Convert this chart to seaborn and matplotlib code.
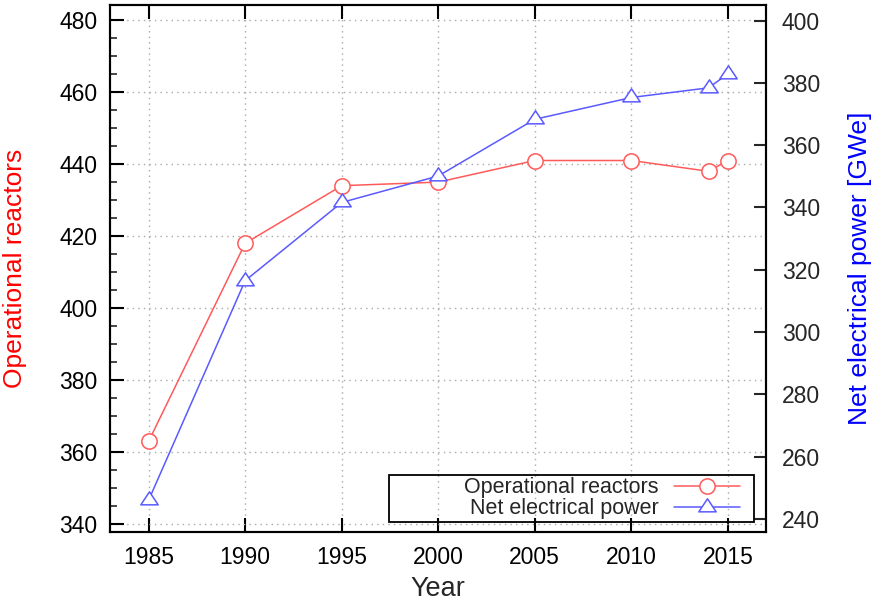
import matplotlib
matplotlib.use("Agg")
import matplotlib.pyplot as plt
from matplotlib.path import Path
from matplotlib.patches import Rectangle
from matplotlib.ticker import MultipleLocator, FixedLocator
import seaborn as sns
import pandas as pd

years = [1985, 1990, 1995, 2000, 2005, 2010, 2014, 2015]
reactors = [363, 418, 434, 435, 441, 441, 438, 441]
power_gwe = [246.0, 316.5, 341.6, 350.1, 368.3, 375.3, 378.4, 382.9]
x_ticks = [1985, 1990, 1995, 2000, 2005, 2010, 2015]
left_ticks = [340, 360, 380, 400, 420, 440, 460, 480]
right_ticks = [240, 260, 280, 300, 320, 340, 360, 380, 400]

sns.set_style("white")
plt.rcParams['font.family'] = ['Liberation Sans', 'DejaVu Sans']

df = pd.DataFrame({"Year": years, "Reactors": reactors, "Power": power_gwe})

fig = plt.figure(figsize=(8.73, 6.01), dpi=100)
ax = fig.add_axes([0.126, 0.1148, 0.752, 0.8769])
ax2 = ax.twinx()

red_line = '#ff5a5a'
blue_line = '#5a5aff'

tri = Path([(0, 4/3), (-4/3, -2/3), (4/3, -2/3), (0, 4/3)],
           [Path.MOVETO, Path.LINETO, Path.LINETO, Path.CLOSEPOLY])

sns.lineplot(data=df, x="Year", y="Reactors", ax=ax, color=red_line, lw=1.1,
             marker='o', markersize=11, markerfacecolor='white',
             markeredgecolor=red_line, markeredgewidth=1.1,
             label="Operational reactors", legend=False)
sns.lineplot(data=df, x="Year", y="Power", ax=ax2, color=blue_line, lw=1.1,
             marker=tri, markersize=12.5, markerfacecolor='white',
             markeredgecolor=blue_line, markeredgewidth=1.1,
             label="Net electrical power", legend=False)

ax.set_xlim(1983, 2017)
ax.set_ylim(337.8, 484.2)
ax2.set_ylim(235.8, 405.0)

ax.xaxis.set_major_locator(FixedLocator(x_ticks))
ax.yaxis.set_major_locator(FixedLocator(left_ticks))
ax.yaxis.set_minor_locator(MultipleLocator(5))
ax2.yaxis.set_major_locator(FixedLocator(right_ticks))

ax.grid(True, which='major', color='#a8a8a8', linestyle=(0, (1, 3)), lw=1.0)
ax2.grid(False)

for a in (ax, ax2):
    for s in a.spines.values():
        s.set_color('black')
        s.set_linewidth(1.5)

ax.tick_params(axis='both', which='major', direction='in', length=10, width=1.5,
               top=True, bottom=True, left=True, right=False,
               labelsize=16.5, pad=9, colors='black')
ax.tick_params(axis='x', which='major', pad=10)
ax.tick_params(axis='y', which='minor', direction='in', length=5, width=1.2,
               left=True, right=False)
ax2.tick_params(axis='y', which='major', direction='in', length=9, width=1.5,
                right=True, left=False, labelsize=16.5, pad=11)

ax.set_xlabel("Year", fontsize=19.5, labelpad=5)
ax.set_ylabel("Operational reactors", fontsize=19, color='red')
ax2.set_ylabel("Net electrical power [GWe]", fontsize=19, color='blue')
ax.yaxis.set_label_coords(-0.127, 0.5)
ax2.yaxis.set_label_coords(1.124, 0.5)

h1, l1 = ax.get_legend_handles_labels()
h2, l2 = ax2.get_legend_handles_labels()
leg = ax2.legend(h1 + h2, l1 + l2, loc='center right',
                 bbox_to_anchor=(0.959, 0.064), markerfirst=False,
                 frameon=False, fontsize=15.5, handlelength=3.05,
                 handletextpad=0.7, labelspacing=0.0, borderpad=0,
                 borderaxespad=0)
ax2.add_patch(Rectangle((0.425, 0.0195), 0.556, 0.0887, transform=ax2.transAxes,
                        fill=False, edgecolor='black', lw=1.3, zorder=5))

fig.savefig("out.png", dpi=100)
